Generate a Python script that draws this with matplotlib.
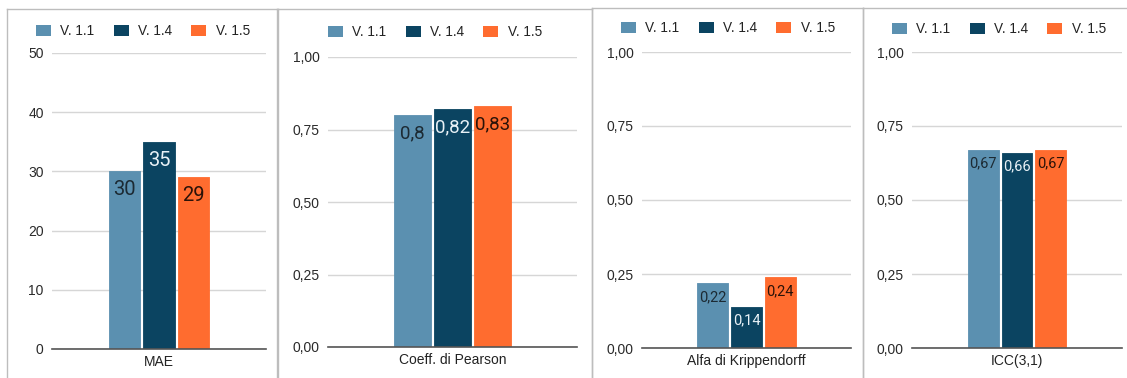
import matplotlib
matplotlib.use("Agg")
import matplotlib.pyplot as plt
from matplotlib.patches import Patch
from matplotlib.lines import Line2D

# ---------------- data ----------------
metrics = ["MAE", "Coeff. di Pearson", "Alfa di Krippendorff", "ICC(3,1)"]
versions = ["V. 1.1", "V. 1.4", "V. 1.5"]
v11 = [30, 0.80, 0.22, 0.67]
v14 = [35, 0.82, 0.14, 0.66]
v15 = [29, 0.83, 0.24, 0.67]
y_max = [50, 1.0, 1.0, 1.0]
y_step = [10, 0.25, 0.25, 0.25]

# ---------------- style ----------------
colors = ["#5b90b0", "#0b4461", "#ff6c2f"]
label_colors = ["#1c2a33", "#e8f1f6", "#2b1208"]
TICK_FONT = "Liberation Sans"
LABEL_FONT = "Roboto"

W, H = 1127, 378
fig = plt.figure(figsize=(W / 100, H / 100), dpi=100)
fig.patch.set_facecolor("white")


def fx(px):
    return px / W


def fy(py):
    return 1 - py / H


# panel geometry in pixels: axes (left, right, top, bottom)
axes_px = [(52, 266, 53, 349), (328, 577, 57, 347), (642, 851, 52, 348), (912, 1122, 52, 348)]
box_px = [(7, 278, 9), (277, 592, 9), (592, 863, 8), (863, 1127, 8)]
legend_px = [(143, 31), (435, 32), (728, 28), (999, 29)]
label_size = [14.5, 13.5, 10.5, 10.5]
label_off = [6.5, 6.5, 5, 5]

series = [v11, v14, v15]
bar_w = 0.147
spacing = 0.161

for p in range(4):
    l, r, t, b = axes_px[p]
    ax = fig.add_axes([fx(l), fy(b), (r - l) / W, (b - t) / H])
    ax.set_facecolor("none")
    vals = [s[p] for s in series]
    for i, v in enumerate(vals):
        x = 0.5 + (i - 1) * spacing
        ax.bar(x, v, width=bar_w, color=colors[i], edgecolor=colors[i],
               linewidth=0.6, joinstyle="round", zorder=3)
        if p == 0:
            txt = f"{v:.0f}"
        else:
            txt = f"{v:g}".replace(".", ",")
        ax.annotate(txt, xy=(x, v), xytext=(0, -label_off[p]),
                    textcoords="offset points", ha="center", va="top",
                    fontsize=label_size[p], family=LABEL_FONT,
                    color=label_colors[i], zorder=4)
    ax.set_xlim(0, 1)
    ax.set_ylim(0, y_max[p])
    n = int(round(y_max[p] / y_step[p]))
    ticks = [k * y_step[p] for k in range(n + 1)]
    ax.set_yticks(ticks)
    if p == 0:
        ax.set_yticklabels([f"{tk:.0f}" for tk in ticks])
    else:
        ax.set_yticklabels([f"{tk:.2f}".replace(".", ",") for tk in ticks])
    ax.set_xticks([0.5])
    ax.set_xticklabels([metrics[p]])
    ax.tick_params(axis="y", length=0, pad=6, labelsize=10, labelcolor="#2a2a2a")
    ax.tick_params(axis="x", length=0, pad=4, labelsize=10, labelcolor="#222222")
    for lab in ax.get_xticklabels() + ax.get_yticklabels():
        lab.set_family(TICK_FONT)
    ax.yaxis.grid(True, color="#d6d6d6", linewidth=1, zorder=0)
    ax.set_axisbelow(True)
    for s in ["top", "left", "right"]:
        ax.spines[s].set_visible(False)
    ax.spines["bottom"].set_color("#555555")
    ax.spines["bottom"].set_linewidth(1.2)
    ax.spines["bottom"].set_zorder(5)
    ax.spines["bottom"].set_clip_on(False)

    # legend
    handles = [Patch(facecolor=c, edgecolor="none") for c in colors]
    cx, cy = legend_px[p]
    fig.legend(handles, versions, loc="center", bbox_to_anchor=(fx(cx), fy(cy)),
               ncol=3, frameon=False, prop={"family": TICK_FONT, "size": 9.8},
               handlelength=1.1, handleheight=0.9, handletextpad=0.7,
               columnspacing=1.4, borderpad=0, borderaxespad=0,
               labelcolor="#222222")

    # panel border
    bl, br, bt = box_px[p]
    bc = "#bdbdbd"
    fig.add_artist(Line2D([fx(bl), fx(bl)], [fy(bt), 0], transform=fig.transFigure,
                          color=bc, linewidth=1))
    fig.add_artist(Line2D([fx(bl), fx(br)], [fy(bt), fy(bt)], transform=fig.transFigure,
                          color=bc, linewidth=1))
    if p < 3:
        fig.add_artist(Line2D([fx(br), fx(br)], [fy(bt), 0], transform=fig.transFigure,
                              color=bc, linewidth=1))

fig.savefig("out.png", dpi=100, facecolor="white")
